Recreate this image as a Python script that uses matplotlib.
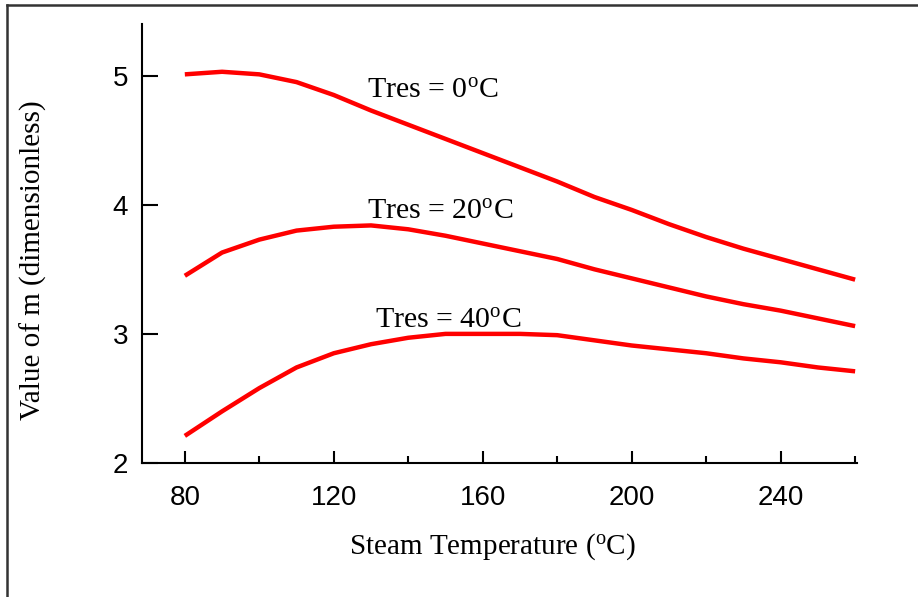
import matplotlib
matplotlib.use("Agg")
import matplotlib.pyplot as plt
from matplotlib.lines import Line2D

plt.rcParams['mathtext.fontset'] = 'custom'
plt.rcParams['mathtext.rm'] = 'Liberation Serif'
plt.rcParams['mathtext.it'] = 'Liberation Serif:italic'

steam_temp = [80, 90, 100, 110, 120, 130, 140, 150, 160, 170, 180, 190, 200, 210, 220, 230, 240, 250, 260]
m_tres0 = [5.01, 5.03, 5.01, 4.95, 4.85, 4.73, 4.62, 4.51, 4.40, 4.29, 4.18, 4.06, 3.96, 3.85, 3.75, 3.66, 3.58, 3.50, 3.42]
m_tres20 = [3.45, 3.63, 3.73, 3.80, 3.83, 3.84, 3.81, 3.76, 3.70, 3.64, 3.58, 3.50, 3.43, 3.36, 3.29, 3.23, 3.18, 3.12, 3.06]
m_tres40 = [2.21, 2.40, 2.58, 2.74, 2.85, 2.92, 2.97, 3.00, 3.00, 3.00, 2.99, 2.95, 2.91, 2.88, 2.85, 2.81, 2.78, 2.74, 2.71]
curve_labels = ["Tres = 0$^{\\mathrm{o}}$C", "Tres = 20$^{\\mathrm{o}}$C", "Tres = 40$^{\\mathrm{o}}$C"]
label_pos = [(129, 4.83), (129, 3.89), (131.2, 3.05)]
x_ticks = [80, 120, 160, 200, 240]
x_minor = [100, 140, 180, 220, 260]
y_ticks = [2, 3, 4, 5]

fig = plt.figure(figsize=(9.18, 5.97), dpi=100)
ax = fig.add_axes([142/918, 1-463/597, (857-142)/918, (463-24)/597])

for ys in (m_tres0, m_tres20, m_tres40):
    ax.plot(steam_temp, ys, color='#ff0000', lw=3.2, solid_capstyle='butt', solid_joinstyle='round')

for lab, (lx, ly) in zip(curve_labels, label_pos):
    ax.text(lx, ly, lab, fontsize=21.5, family='Liberation Serif', ha='left', va='baseline')

ax.set_xlim(68.5, 260.5)
ax.set_ylim(2.0, 5.4)
ax.set_xticks(x_ticks)
ax.set_xticks(x_minor, minor=True)
ax.set_yticks(y_ticks)
for s in ('top', 'right'):
    ax.spines[s].set_visible(False)
for s in ('left', 'bottom'):
    ax.spines[s].set_linewidth(1.5)
ax.tick_params(axis='x', which='major', direction='in', length=9, width=1.5, pad=16,
               labelsize=20, labelfontfamily='Liberation Sans')
ax.tick_params(axis='x', which='minor', direction='in', length=5, width=1.5)
ax.tick_params(axis='y', which='major', direction='in', length=11.5, width=1.5, pad=10,
               labelsize=20, labelfontfamily='Liberation Sans')

ax.set_xlabel("Steam Temperature ($^{\\mathrm{o}}$C)", fontsize=21, family='Liberation Serif')
ax.xaxis.set_label_coords(0.49, -0.19)
ax.xaxis.label.set_va('center')
ax.set_ylabel("Value of m (dimensionless)", fontsize=21, family='Liberation Serif')
ax.yaxis.set_label_coords(-0.152, 0.462)
ax.yaxis.label.set_va('center')

# frame border (top and left edges)
fig.add_artist(Line2D([7/918, 1], [1-5/597, 1-5/597], transform=fig.transFigure, color='#333333', lw=1.8))
fig.add_artist(Line2D([7/918, 7/918], [0, 1-5/597], transform=fig.transFigure, color='#333333', lw=1.8))

fig.savefig("out.png", dpi=100)
